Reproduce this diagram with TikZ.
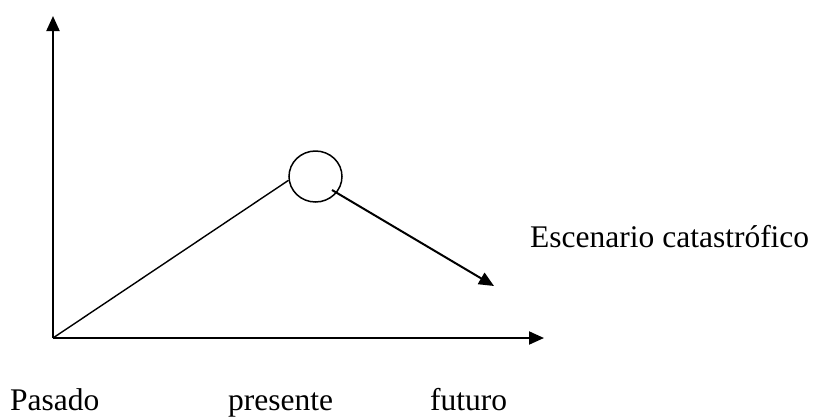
\documentclass[tikz,border=0pt]{standalone}
\usepackage{fontspec}
\setmainfont{Liberation Serif}
\usetikzlibrary{arrows.meta,shapes.geometric}
\begin{document}
\begin{tikzpicture}[x=1pt,y=-1pt,
  axis/.style={line width=2pt,-{Triangle[length=15pt,width=13pt]}},
  lbl/.style={anchor=base west,inner sep=0pt,font=\fontsize{31.5}{36}\selectfont}]
\useasboundingbox (0,0) rectangle (814,416);
\coordinate (O) at (53,338);
\coordinate (ytip) at (53,16);
\coordinate (xtip) at (544,338);
\draw[axis] (O) -- (ytip);
\draw[axis] (O) -- (xtip);
\node[draw,ellipse,line width=1.5pt,minimum width=53pt,minimum height=51pt,inner sep=0pt] (c) at (315.5,176.5) {};
\draw[line width=1.4pt] (O) -- (c.188);
\coordinate (s) at (332,190);
\coordinate (e) at (494,286);
\draw[axis] (s) -- (e);
\node[lbl] (esc) at (530,247) {Escenario catastrófico};
\node[lbl] (pas) at (10,410) {Pasado};
\node[lbl] (pre) at (228,410) {presente};
\node[lbl] (fut) at (430,410) {futuro};
\end{tikzpicture}
\end{document}
